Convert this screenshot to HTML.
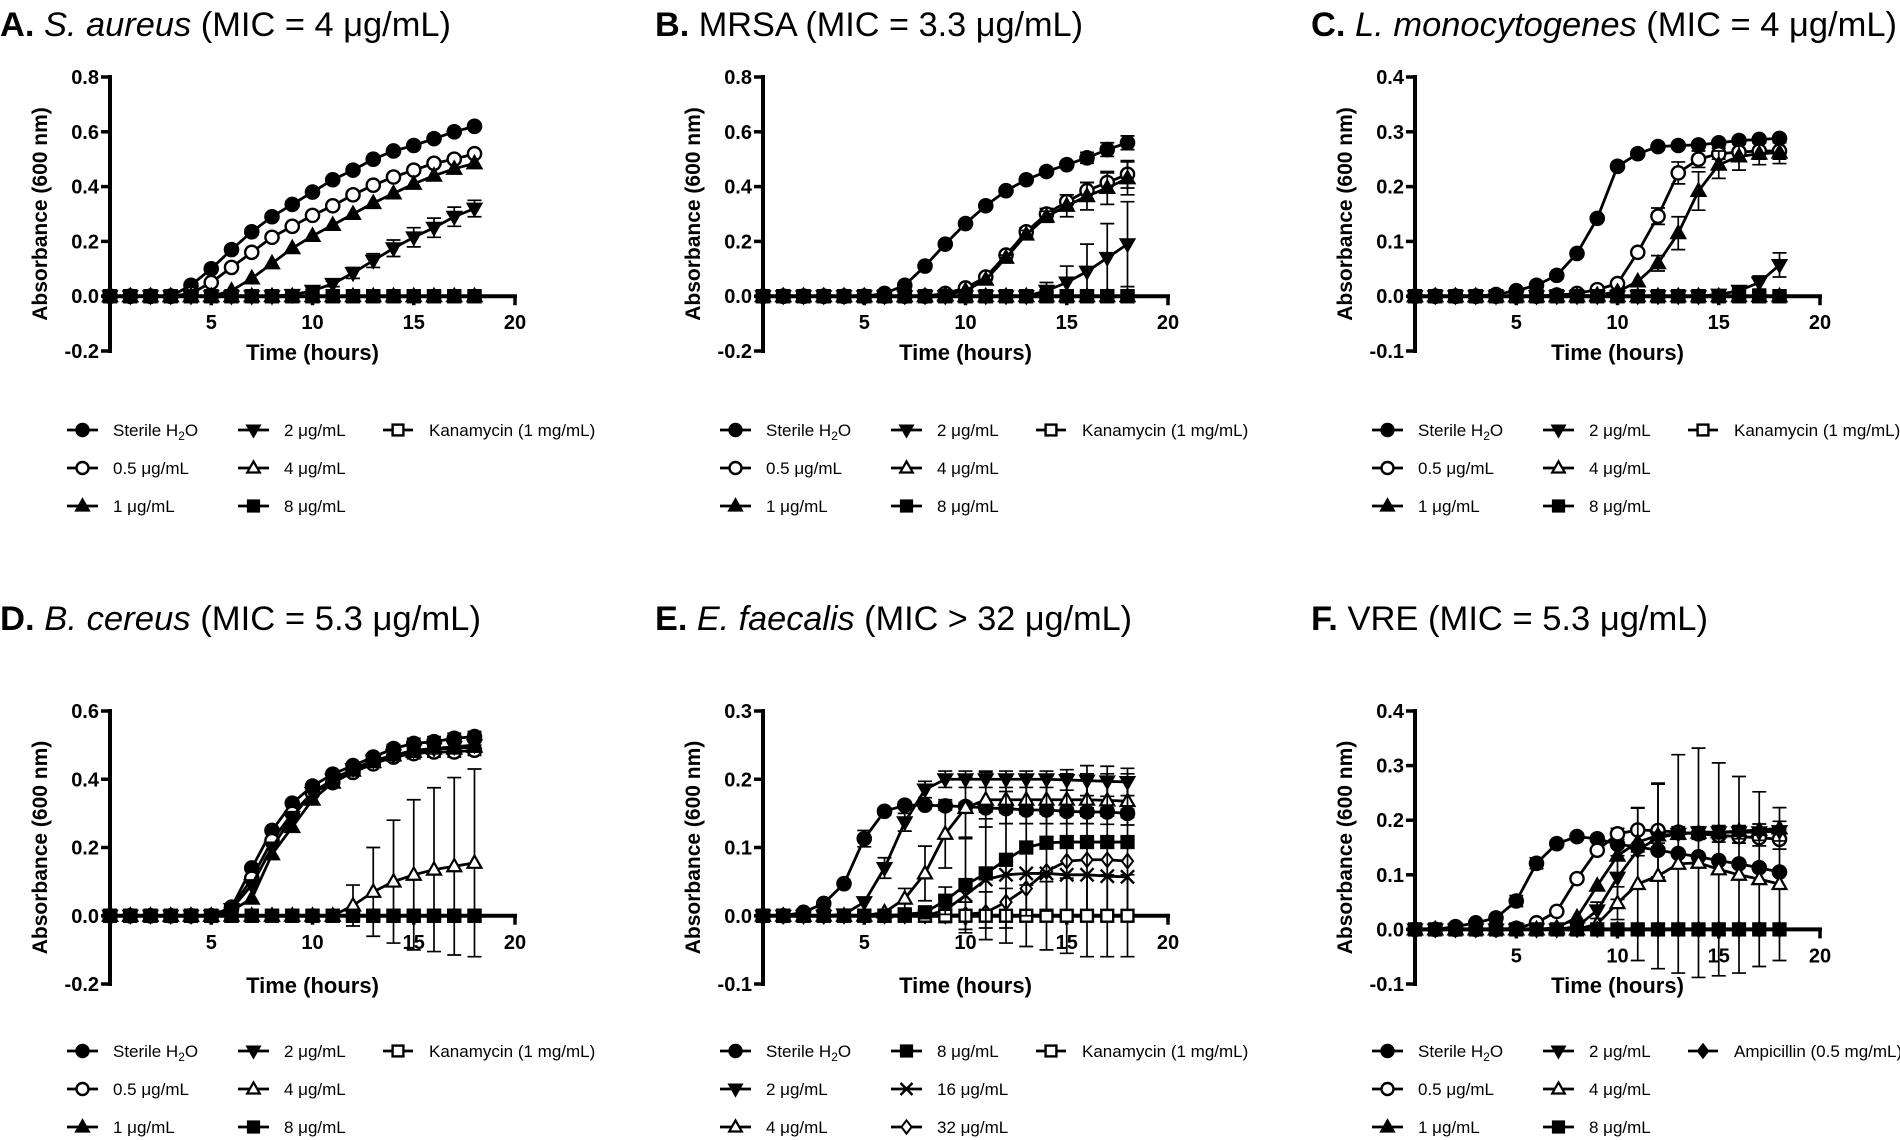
<!DOCTYPE html>
<html><head><meta charset="utf-8">
<style>
html,body{margin:0;padding:0;background:#fff;}
svg{display:block;}
text{font-family:"Liberation Sans",Arial,sans-serif;fill:#000;}
</style></head>
<body>
<svg id="fig" width="1900" height="1140" viewBox="0 0 1900 1140" xmlns="http://www.w3.org/2000/svg"></svg>
<script>
// ---------- shared data ----------
const hours = [0,1,2,3,4,5,6,7,8,9,10,11,12,13,14,15,16,17,18];
const zeros = [0,0,0,0,0,0,0,0,0,0,0,0,0,0,0,0,0,0,0];

// Panel A: S. aureus
const A_h2o = [0,0,0,0,0.04,0.10,0.17,0.235,0.29,0.335,0.38,0.425,0.46,0.50,0.53,0.55,0.575,0.60,0.62];
const A_05  = [0,0,0,0,0.01,0.05,0.105,0.16,0.215,0.255,0.295,0.33,0.37,0.405,0.435,0.46,0.485,0.50,0.52];
const A_1   = [0,0,0,0,0,0,0.02,0.065,0.12,0.175,0.22,0.26,0.30,0.34,0.375,0.41,0.44,0.465,0.485];
const A_2   = [0,0,0,0,0,0,0,0,0,0.005,0.02,0.045,0.085,0.13,0.175,0.215,0.25,0.29,0.32];
const A_2e  = [0,0,0,0,0,0,0,0,0,0,0.01,0.01,0.02,0.025,0.03,0.035,0.035,0.035,0.03];

// Panel B: MRSA
const B_h2o = [0,0,0,0,0,0,0.01,0.04,0.11,0.19,0.265,0.33,0.385,0.425,0.455,0.48,0.505,0.535,0.56];
const B_h2oe= [0,0,0,0,0,0,0,0,0,0,0,0,0,0,0.01,0.01,0.02,0.025,0.025];
const B_05  = [0,0,0,0,0,0,0,0,0,0.01,0.03,0.07,0.15,0.235,0.30,0.345,0.385,0.415,0.445];
const B_05e = [0,0,0,0,0,0,0,0,0,0,0,0,0.01,0.015,0.02,0.025,0.03,0.035,0.05];
const B_1   = [0,0,0,0,0,0,0,0,0,0.005,0.02,0.06,0.14,0.225,0.29,0.33,0.365,0.395,0.43];
const B_1e  = [0,0,0,0,0,0,0,0,0,0,0,0,0.01,0.015,0.02,0.04,0.05,0.06,0.06];
const B_2   = [0,0,0,0,0,0,0,0,0,0,0,0,0,0,0.02,0.05,0.09,0.14,0.19];
const B_2e  = [0,0,0,0,0,0,0,0,0,0,0,0,0,0,0.03,0.06,0.10,0.125,0.155];

// Panel C: L. monocytogenes
const C_h2o = [0,0,0,0,0.003,0.01,0.02,0.038,0.078,0.142,0.237,0.26,0.273,0.275,0.276,0.28,0.284,0.286,0.288];
const C_05  = [0,0,0,0,0,0,0,0.002,0.005,0.012,0.023,0.08,0.146,0.225,0.25,0.26,0.263,0.265,0.265];
const C_05e = [0,0,0,0,0,0,0,0,0,0,0,0.005,0.015,0.02,0.015,0.01,0.015,0.015,0.015];
const C_1   = [0,0,0,0,0,0,0,0,0,0.002,0.008,0.027,0.06,0.115,0.192,0.24,0.255,0.26,0.262];
const C_1e  = [0,0,0,0,0,0,0,0,0,0,0,0,0.014,0.03,0.035,0.025,0.025,0.02,0.02];
const C_2   = [0,0,0,0,0,0,0,0,0,0,0,0,0,0,0,0.003,0.01,0.025,0.057];
const C_2e  = [0,0,0,0,0,0,0,0,0,0,0,0,0,0,0,0,0.005,0.012,0.022];

// Panel D: B. cereus
const D_h2o = [0,0,0,0,0,0,0.025,0.14,0.25,0.33,0.38,0.415,0.44,0.465,0.49,0.505,0.51,0.52,0.525];
const D_05  = [0,0,0,0,0,0,0.02,0.11,0.22,0.30,0.36,0.39,0.42,0.445,0.465,0.475,0.48,0.48,0.485];
const D_1   = [0,0,0,0,0,0,0.015,0.05,0.18,0.26,0.34,0.39,0.425,0.45,0.47,0.48,0.49,0.49,0.495];
const D_2   = [0,0,0,0,0,0,0.02,0.09,0.20,0.29,0.36,0.40,0.43,0.455,0.47,0.485,0.49,0.495,0.50];
const D_sme = [0,0,0,0,0,0,0,0,0,0,0,0,0,0.01,0.012,0.015,0.015,0.015,0.015];
const D_4   = [0,0,0,0,0,0,0,0,0,0,0,0,0.03,0.07,0.10,0.12,0.135,0.145,0.155];
const D_4e  = [0,0,0,0,0,0,0,0,0,0,0,0,0.06,0.13,0.18,0.22,0.24,0.26,0.275];

// Panel E: E. faecalis
const E_h2o = [0,0,0.005,0.018,0.047,0.113,0.153,0.162,0.162,0.161,0.16,0.158,0.157,0.155,0.155,0.153,0.152,0.152,0.15];
const E_h2oe= [0,0,0,0,0,0.012,0.005,0.005,0.005,0.006,0.006,0.006,0.006,0.006,0.006,0.006,0.006,0.006,0.006];
const E_2   = [0,0,0,0,0.002,0.02,0.07,0.137,0.185,0.2,0.2,0.2,0.2,0.2,0.2,0.199,0.198,0.197,0.196];
const E_2e  = [0,0,0,0,0,0,0.015,0.013,0.012,0.012,0.012,0.012,0.012,0.012,0.012,0.015,0.022,0.022,0.02];
const E_4   = [0,0,0,0,0,0,0.005,0.025,0.062,0.12,0.158,0.17,0.17,0.17,0.17,0.17,0.17,0.169,0.168];
const E_4e  = [0,0,0,0,0,0,0,0.015,0.04,0.05,0.045,0.04,0.035,0.035,0.035,0.035,0.035,0.035,0.035];
const E_8   = [0,0,0,0,0,0,0,0.002,0.005,0.022,0.045,0.062,0.082,0.10,0.107,0.108,0.108,0.108,0.108];
const E_8e  = [0,0,0,0,0,0,0,0,0,0.02,0.07,0.08,0.1,0.1,0.1,0.1,0.1,0.1,0.1];
const E_16  = [0,0,0,0,0,0,0,0,0,0.008,0.03,0.053,0.06,0.062,0.062,0.06,0.06,0.058,0.057];
const E_32  = [0,0,0,0,0,0,0,0,0,0,0.002,0.005,0.02,0.04,0.065,0.08,0.082,0.082,0.08];
const E_kane= [0,0,0,0,0,0,0,0,0,0.01,0.02,0.035,0.04,0.045,0.05,0.055,0.06,0.06,0.06];

// Panel F: VRE
const F_h2o = [0,0,0.005,0.012,0.021,0.052,0.121,0.157,0.17,0.166,0.156,0.151,0.145,0.139,0.133,0.126,0.12,0.113,0.105];
const F_h2oe= [0,0,0,0,0,0.01,0.01,0,0,0,0,0,0,0,0,0,0,0,0];
const F_05  = [0,0,0,0,0,0.002,0.012,0.033,0.093,0.145,0.175,0.182,0.181,0.178,0.175,0.172,0.17,0.168,0.165];
const F_05e = [0,0,0,0,0,0,0,0,0,0,0.01,0.04,0.085,0.01,0.01,0.012,0.012,0.015,0.018];
const F_1   = [0,0,0,0,0,0,0,0.003,0.022,0.08,0.135,0.16,0.172,0.175,0.177,0.178,0.18,0.182,0.185];
const F_2   = [0,0,0,0,0,0,0,0,0.005,0.035,0.095,0.145,0.168,0.175,0.178,0.178,0.178,0.178,0.18];
const F_2e  = [0,0,0,0,0,0,0,0,0,0.015,0.04,0.01,0.01,0.01,0.01,0.012,0.012,0.015,0.018];
const F_4   = [0,0,0,0,0,0,0,0,0,0.01,0.048,0.083,0.098,0.12,0.122,0.11,0.10,0.092,0.083];
const F_4e  = [0,0,0,0,0,0,0,0,0,0,0.03,0.14,0.17,0.2,0.21,0.195,0.18,0.16,0.14];

// ---------- drawing ----------
const NS = "http://www.w3.org/2000/svg";
const svg = document.getElementById('fig');
function mk(tag, attrs, parent){
  const e = document.createElementNS(NS, tag);
  for (const k in attrs) e.setAttribute(k, attrs[k]);
  (parent||svg).appendChild(e);
  return e;
}
function marker(g, type, x, y, r){
  let e;
  const s = r;
  if (type==='circle' || type==='ocircle'){
    e = mk('circle',{cx:x,cy:y,r:r,fill:type==='circle'?'#000':'#fff',stroke:'#000','stroke-width':2.4},g);
  } else if (type==='tri' || type==='otri'){
    e = mk('polygon',{points:`${x},${y-s*1.1} ${x-s*1.05},${y+s*0.75} ${x+s*1.05},${y+s*0.75}`,fill:type==='tri'?'#000':'#fff',stroke:'#000','stroke-width':2.2},g);
  } else if (type==='dtri'){
    e = mk('polygon',{points:`${x},${y+s*1.1} ${x-s*1.05},${y-s*0.75} ${x+s*1.05},${y-s*0.75}`,fill:'#000',stroke:'#000','stroke-width':2},g);
  } else if (type==='sq' || type==='osq'){
    e = mk('rect',{x:x-s*0.9,y:y-s*0.9,width:s*1.8,height:s*1.8,fill:type==='sq'?'#000':'#fff',stroke:'#000','stroke-width':2.4},g);
  } else if (type==='x'){
    e = mk('path',{d:`M${x-s},${y-s}L${x+s},${y+s}M${x-s},${y+s}L${x+s},${y-s}`,stroke:'#000','stroke-width':2.4,fill:'none'},g);
  } else if (type==='odia' || type==='dia'){
    e = mk('polygon',{points:`${x},${y-s*1.1} ${x+s*0.85},${y} ${x},${y+s*1.1} ${x-s*0.85},${y}`,fill:type==='dia'?'#000':'#fff',stroke:'#000','stroke-width':2},g);
  }
  return e;
}

const panels = [
  {id:'a', titleX:0, titleY:36, tLen:451, letter:'A.', ital:'S. aureus', rest:' (MIC = 4 μg/mL)', ax:110, top:77, bot:351, ymin:-0.2, ymax:0.8, step:0.2, legY:[430,468,506],
   series:[['Sterile H2O','circle',A_h2o,null],['0.5 μg/mL','ocircle',A_05,null],['1 μg/mL','tri',A_1,null],['2 μg/mL','dtri',A_2,A_2e],['4 μg/mL','otri',zeros,null],['Kanamycin (1 mg/mL)','osq',zeros,null],['8 μg/mL','sq',zeros,null]],
   legend:[['Sterile H2O','circle'],['0.5 μg/mL','ocircle'],['1 μg/mL','tri'],['2 μg/mL','dtri'],['4 μg/mL','otri'],['8 μg/mL','sq'],['Kanamycin (1 mg/mL)','osq']]},
  {id:'b', titleX:655, titleY:36, tLen:428, letter:'B.', ital:'', rest:' MRSA (MIC = 3.3 μg/mL)', ax:763, top:77, bot:351, ymin:-0.2, ymax:0.8, step:0.2, legY:[430,468,506],
   series:[['Sterile H2O','circle',B_h2o,B_h2oe],['0.5 μg/mL','ocircle',B_05,B_05e],['1 μg/mL','tri',B_1,B_1e],['2 μg/mL','dtri',B_2,B_2e],['4 μg/mL','otri',zeros,null],['Kanamycin (1 mg/mL)','osq',zeros,null],['8 μg/mL','sq',zeros,null]],
   legend:[['Sterile H2O','circle'],['0.5 μg/mL','ocircle'],['1 μg/mL','tri'],['2 μg/mL','dtri'],['4 μg/mL','otri'],['8 μg/mL','sq'],['Kanamycin (1 mg/mL)','osq']]},
  {id:'c', titleX:1311, titleY:36, tLen:586, letter:'C.', ital:'L. monocytogenes', rest:' (MIC = 4 μg/mL)', ax:1415, top:77, bot:351, ymin:-0.1, ymax:0.4, step:0.1, legY:[430,468,506],
   series:[['Sterile H2O','circle',C_h2o,null],['0.5 μg/mL','ocircle',C_05,C_05e],['1 μg/mL','tri',C_1,C_1e],['2 μg/mL','dtri',C_2,C_2e],['4 μg/mL','otri',zeros,null],['Kanamycin (1 mg/mL)','osq',zeros,null],['8 μg/mL','sq',zeros,null]],
   legend:[['Sterile H2O','circle'],['0.5 μg/mL','ocircle'],['1 μg/mL','tri'],['2 μg/mL','dtri'],['4 μg/mL','otri'],['8 μg/mL','sq'],['Kanamycin (1 mg/mL)','osq']]},
  {id:'d', titleX:0, titleY:630, tLen:481, letter:'D.', ital:'B. cereus', rest:' (MIC = 5.3 μg/mL)', ax:110, top:711, bot:984, ymin:-0.2, ymax:0.6, step:0.2, legY:[1051,1089,1127],
   series:[['Sterile H2O','circle',D_h2o,D_sme],['0.5 μg/mL','ocircle',D_05,D_sme],['2 μg/mL','dtri',D_2,D_sme],['1 μg/mL','tri',D_1,D_sme],['4 μg/mL','otri',D_4,D_4e],['Kanamycin (1 mg/mL)','osq',zeros,null],['8 μg/mL','sq',zeros,null]],
   legend:[['Sterile H2O','circle'],['0.5 μg/mL','ocircle'],['1 μg/mL','tri'],['2 μg/mL','dtri'],['4 μg/mL','otri'],['8 μg/mL','sq'],['Kanamycin (1 mg/mL)','osq']]},
  {id:'e', titleX:655, titleY:630, tLen:477, letter:'E.', ital:'E. faecalis', rest:' (MIC > 32 μg/mL)', ax:763, top:711, bot:984, ymin:-0.1, ymax:0.3, step:0.1, legY:[1051,1089,1127],
   series:[['32 μg/mL','odia',E_32,null],['16 μg/mL','x',E_16,null],['Sterile H2O','circle',E_h2o,E_h2oe],['2 μg/mL','dtri',E_2,E_2e],['4 μg/mL','otri',E_4,E_4e],['Kanamycin (1 mg/mL)','osq',zeros,E_kane],['8 μg/mL','sq',E_8,E_8e]],
   legend:[['Sterile H2O','circle'],['2 μg/mL','dtri'],['4 μg/mL','otri'],['8 μg/mL','sq'],['16 μg/mL','x'],['32 μg/mL','odia'],['Kanamycin (1 mg/mL)','osq']]},
  {id:'f', titleX:1311, titleY:630, tLen:397, letter:'F.', ital:'', rest:' VRE (MIC = 5.3 μg/mL)', ax:1415, top:711, bot:984, ymin:-0.1, ymax:0.4, step:0.1, legY:[1051,1089,1127],
   series:[['Sterile H2O','circle',F_h2o,F_h2oe],['0.5 μg/mL','ocircle',F_05,F_05e],['1 μg/mL','tri',F_1,null],['2 μg/mL','dtri',F_2,F_2e],['4 μg/mL','otri',F_4,F_4e],['Ampicillin (0.5 mg/mL)','dia',zeros,null],['8 μg/mL','sq',zeros,null]],
   legend:[['Sterile H2O','circle'],['0.5 μg/mL','ocircle'],['1 μg/mL','tri'],['2 μg/mL','dtri'],['4 μg/mL','otri'],['8 μg/mL','sq'],['Ampicillin (0.5 mg/mL)','dia']]}
];

function labelText(parent, x, y, label, size){
  const t = mk('text', {x:x,y:y,'font-size':size}, parent);
  if (label==='Sterile H2O'){
    const a = mk('tspan',{},t); a.textContent='Sterile H';
    const b = mk('tspan',{dy:4,'font-size':size*0.7},t); b.textContent='2';
    const c = mk('tspan',{dy:-4},t); c.textContent='O';
  } else t.textContent = label;
  return t;
}

const PXH = 20.25;
panels.forEach(p => {
  const g = mk('g',{});
  
  
  const xs = h => p.ax + h*PXH;
  const ys = v => p.bot - (v - p.ymin)/(p.ymax - p.ymin)*(p.bot - p.top);
  const y0 = ys(0);

  const tt = mk('text',{x:p.titleX,y:p.titleY,'font-size':34,textLength:p.tLen,lengthAdjust:'spacingAndGlyphs'},g);
  
  
  const t1 = mk('tspan',{'font-weight':'bold'},tt); t1.textContent = p.letter;
  if (p.ital){ const t2 = mk('tspan',{'font-style':'italic'},tt); t2.textContent=' '+p.ital; }
  const t3 = mk('tspan',{},tt); t3.textContent = p.rest;

  const ya = mk('line',{x1:p.ax,y1:p.top-2,x2:p.ax,y2:p.bot+2,stroke:'#000','stroke-width':4},g);
  
  
  const nT = Math.round((p.ymax-p.ymin)/p.step);
  for (let i=0;i<=nT;i++){
    const v = p.ymin + i*p.step;
    const yy = ys(v);
    mk('line',{x1:p.ax-9,y1:yy,x2:p.ax,y2:yy,stroke:'#000','stroke-width':3.5},g);
    const tl = mk('text',{x:p.ax-11,y:yy+7,'font-size':20,'font-weight':'bold','text-anchor':'end'},g);
    
    
    tl.textContent = (Math.abs(v)<1e-9?0:v).toFixed(1);
  }
  const xa = mk('line',{x1:p.ax,y1:y0,x2:xs(20)+2,y2:y0,stroke:'#000','stroke-width':4},g);
  
  
  [5,10,15,20].forEach(h=>{
    mk('line',{x1:xs(h),y1:y0,x2:xs(h),y2:y0+9,stroke:'#000','stroke-width':3.5},g);
    const xl = mk('text',{x:xs(h),y:y0+33,'font-size':20,'font-weight':'bold','text-anchor':'middle'},g);
    
    
    xl.textContent = h;
  });
  const xt = mk('text',{x:xs(10),y:p.bot+9,'font-size':22,'font-weight':'bold','text-anchor':'middle'},g);
  
  
  xt.textContent = 'Time (hours)';
  const ymid = (p.top+p.bot)/2;
  const yt = mk('text',{x:0,y:0,'font-size':21,'font-weight':'bold','text-anchor':'middle',transform:`translate(${p.ax-63},${ymid}) rotate(-90)`},g);
  
  
  yt.textContent = 'Absorbance (600 nm)';

  p.series.forEach(s => {
    const [name, mtype, vals, errs] = s;
    const sg = mk('g',{},g);
    
    
    if (errs){
      hours.forEach((h,i)=>{
        if (!errs[i]) return;
        const x = xs(h), yu = ys(vals[i]+errs[i]), yd = ys(vals[i]-errs[i]);
        const eb = mk('path',{d:`M${x},${yu}L${x},${yd}M${x-7},${yu}L${x+7},${yu}M${x-7},${yd}L${x+7},${yd}`,stroke:'#000','stroke-width':1.7,fill:'none'},sg);
        
        
      });
    }
    const pts = hours.map((h,i)=>xs(h)+','+ys(vals[i])).join(' ');
    const ln = mk('polyline',{points:pts,fill:'none',stroke:'#000','stroke-width':2.8,'stroke-linejoin':'round'},sg);
    
    
    hours.forEach((h,i)=>{
      const m = marker(sg, mtype, xs(h), ys(vals[i]), 6.6);
      
      
    });
  });

  const lg = mk('g',{},g);
  
  
  const colLine = [[-43,-12],[128,159],[273,303]];
  const colText = [3,174,319];
  p.legend.forEach((L,i)=>{
    const col = Math.floor(i/3), row = i%3;
    const yy = p.legY[row];
    const eg = mk('g',{},lg);
    
    
    mk('line',{x1:p.ax+colLine[col][0],y1:yy,x2:p.ax+colLine[col][1],y2:yy,stroke:'#000','stroke-width':2.8},eg);
    marker(eg, L[1], p.ax+(colLine[col][0]+colLine[col][1])/2, yy, 6);
    labelText(eg, p.ax+colText[col], yy+6, L[0], 17);
  });
});
</script>
</body></html>
